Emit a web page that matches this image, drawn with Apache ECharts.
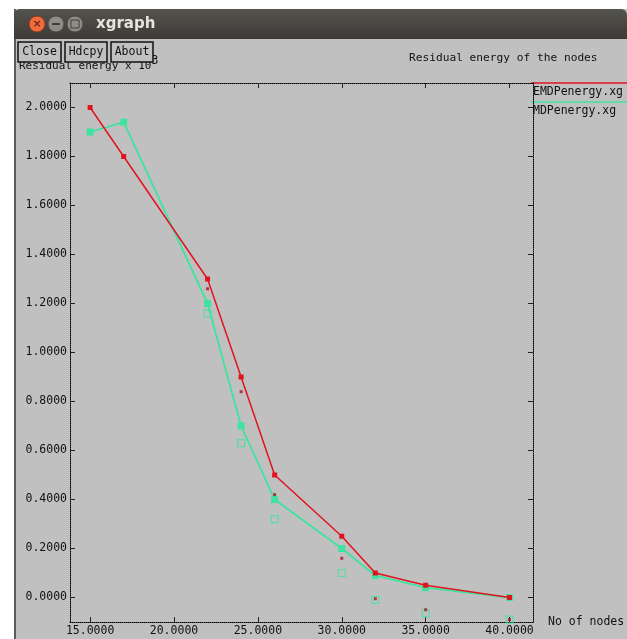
<!DOCTYPE html>
<html>
<head>
<meta charset="utf-8">
<title>xgraph - Residual energy of the nodes</title>
<script src="https://cdn.jsdelivr.net/npm/echarts@6/dist/echarts.min.js"></script>
<style>
  html, body { margin: 0; padding: 0; background: #fff; }
  #chart { width: 627px; height: 639px; }
</style>
</head>
<body>
<div id="chart"></div>
<script>
/*global echarts */

// ------------------------------ DATA ------------------------------
var nodeCounts = [15, 17, 22, 24, 26, 30, 32, 35, 40];
var emdEnergy  = [2.0, 1.8, 1.3, 0.9, 0.5, 0.25, 0.1, 0.05, 0.0];
var mdEnergy   = [1.9, 1.94, 1.2, 0.7, 0.4, 0.2, 0.09, 0.04, 0.0];

// the loose marks xgraph draws under the lines
var markNodes  = [22, 24, 26, 30, 32, 35, 40];
var emdMarks   = [1.26, 0.84, 0.42, 0.16, -0.005, -0.05, -0.09];
var mdMarks    = [1.16, 0.63, 0.32, 0.10, -0.01, -0.065, -0.09];

var xTicks = [15, 20, 25, 30, 35, 40];
var yTicks = [0, 0.2, 0.4, 0.6, 0.8, 1.0, 1.2, 1.4, 1.6, 1.8, 2.0];

var seriesNames = ['EMDPenergy.xg', 'MDPenergy.xg'];
// ------------------------------------------------------------------

var xgraphChart = (function () {
  var
    configMap = {
      red   : '#e2121f',
      green : '#3fe3a0',
      gray  : '#c0c0c0',
      mono  : '"DejaVu Sans Mono", "Liberation Mono", monospace'
    },
    zipPoints, makeAxisPair, makeChrome, renderChart
  ;

  zipPoints = function (xs, ys) {
    return xs.map(function (x, i) { return [x, ys[i]]; });
  };

  // dotted frame with inward ticks, xgraph style
  makeAxisPair = function (kind) {
    var isX = kind === 'x',
      ticks = isX ? xTicks : yTicks,
      base = {
        type : 'value',
        min  : isX ? 13.8 : -0.1,
        max  : isX ? 41.4 : 2.1,
        axisLine  : { show : true, onZero : false,
                      lineStyle : { color : '#000', width : 1, type : [1, 1] } },
        axisTick  : { show : true, inside : true, length : 5, customValues : ticks,
                      lineStyle : { color : '#222', width : 1 } },
        splitLine : { show : false }
      },
      main = echarts.util.merge({
        position  : isX ? 'bottom' : 'left',
        axisLabel : {
          customValues : ticks, margin : 3,
          color : '#111', fontFamily : configMap.mono, fontSize : 11.5,
          formatter : function (v) { return v.toFixed(4); }
        }
      }, base, true),
      other = echarts.util.merge({
        position  : isX ? 'top' : 'right',
        axisLabel : { show : false }
      }, base, true);

    if (isX) {
      main.name = 'No of nodes';
      main.nameLocation = 'end';
      main.nameGap = 15;
      main.nameTextStyle = { color : '#111', fontFamily : configMap.mono,
        fontSize : 11.5, align : 'left', verticalAlign : 'middle' };
    }
    return [main, other];
  };

  // window frame, title bar, buttons, legend
  makeChrome = function () {
    var mono = configMap.mono, items;
    items = [
      { type : 'rect', shape : { x : 0, y : 0, width : 627, height : 9 },
        style : { fill : '#fff' }, silent : true },
      { type : 'rect', shape : { x : 0, y : 0, width : 14, height : 639 },
        style : { fill : '#fff' }, silent : true },
      { type : 'line', shape : { x1 : 15, y1 : 9, x2 : 15, y2 : 639 },
        style : { stroke : '#5a5a5a', lineWidth : 2 }, silent : true },
      { type : 'rect', shape : { x : 14, y : 9, width : 613, height : 30, r : [6, 6, 0, 0] },
        style : { fill : new echarts.graphic.LinearGradient(0, 0, 0, 1, [
          { offset : 0, color : '#54534d' }, { offset : 1, color : '#3b3a36' }]) },
        silent : true },
      { type : 'circle', shape : { cx : 37, cy : 24, r : 8 },
        style : { fill : '#ef6a3c', stroke : '#8a3a1c', lineWidth : 1 } },
      { type : 'text', x : 37, y : 24, style : { text : '×', fill : '#6b2a10',
        font : 'bold 11px "DejaVu Sans"', align : 'center', verticalAlign : 'middle' } },
      { type : 'circle', shape : { cx : 56, cy : 24, r : 8 },
        style : { fill : '#8e8c86', stroke : '#4a4944', lineWidth : 1 } },
      { type : 'rect', shape : { x : 52, y : 23, width : 8, height : 2 },
        style : { fill : '#3f3e3a' } },
      { type : 'circle', shape : { cx : 75, cy : 24, r : 8 },
        style : { fill : '#8e8c86', stroke : '#4a4944', lineWidth : 1 } },
      { type : 'rect', shape : { x : 71, y : 20, width : 8, height : 8 },
        style : { fill : 'none', stroke : '#3f3e3a', lineWidth : 1 } },
      { type : 'text', x : 96, y : 24, style : { text : 'xgraph', fill : '#e6e3dc',
        font : 'bold 15px "DejaVu Sans"', verticalAlign : 'middle' } },
      // y-axis caption, half hidden behind the buttons like in xgraph
      { type : 'text', x : 19, y : 66, style : {
        text : 'Residual energy x 10{sup|3}', fill : '#111',
        font : '11px ' + mono, verticalAlign : 'middle',
        rich : { sup : { fontFamily : 'DejaVu Sans Mono', fontSize : 11.5,
                         verticalAlign : 'bottom', padding : [0, 0, 10, 0] } } } }
    ];

    [['Close', 18, 43], ['Hdcpy', 65, 42], ['About', 111, 42]].forEach(function (b) {
      items.push({ type : 'rect', shape : { x : b[1], y : 42, width : b[2], height : 20 },
        style : { fill : configMap.gray, stroke : '#111', lineWidth : 1.5 } });
      items.push({ type : 'text', x : b[1] + b[2] / 2, y : 52, style : {
        text : b[0], fill : '#111', font : '11.5px ' + mono,
        align : 'center', verticalAlign : 'middle' } });
    });

    items.push(
      { type : 'line', shape : { x1 : 531, y1 : 83, x2 : 627, y2 : 83 },
        style : { stroke : configMap.red, lineWidth : 1.5 } },
      { type : 'text', x : 533, y : 92, style : { text : seriesNames[0], fill : '#111',
        font : '11.5px ' + mono, verticalAlign : 'middle' } },
      { type : 'line', shape : { x1 : 531, y1 : 102, x2 : 627, y2 : 102 },
        style : { stroke : configMap.green, lineWidth : 1.5 } },
      { type : 'text', x : 533, y : 111, style : { text : seriesNames[1], fill : '#111',
        font : '11.5px ' + mono, verticalAlign : 'middle' } }
    );
    return items;
  };

  renderChart = function (el) {
    var chart = echarts.init(el, null, { renderer : 'canvas' }),
      xs = makeAxisPair('x'), ys = makeAxisPair('y');

    chart.setOption({
      animation : false,
      backgroundColor : configMap.gray,
      title : {
        text : 'Residual energy of the nodes', left : 404, top : 48,
        textStyle : { color : '#111', fontFamily : configMap.mono,
                      fontSize : 11.2, fontWeight : 'normal' }
      },
      grid : { left : 70, right : 94, top : 83, bottom : 17, outerBoundsMode : 'none' },
      xAxis : xs,
      yAxis : ys,
      graphic : { elements : makeChrome() },
      series : [
        { name : seriesNames[0], type : 'line', data : zipPoints(nodeCounts, emdEnergy),
          symbol : 'rect', symbolSize : 5, showAllSymbol : true,
          itemStyle : { color : configMap.red },
          lineStyle : { color : configMap.red, width : 1.5 }, z : 4 },
        { name : seriesNames[1], type : 'line', data : zipPoints(nodeCounts, mdEnergy),
          symbol : 'rect', symbolSize : 7, showAllSymbol : true,
          itemStyle : { color : configMap.green },
          lineStyle : { color : configMap.green, width : 1.8 }, z : 3 },
        { name : seriesNames[0] + ' marks', type : 'scatter',
          data : zipPoints(markNodes, emdMarks), symbol : 'rect', symbolSize : 3,
          itemStyle : { color : '#b01020' }, z : 5 },
        { name : seriesNames[1] + ' marks', type : 'scatter',
          data : zipPoints(markNodes, mdMarks), symbol : 'rect', symbolSize : 7,
          itemStyle : { color : 'rgba(0,0,0,0)', borderColor : configMap.green,
                        borderWidth : 1.2 }, z : 4 }
      ]
    });
    return chart;
  };

  return { renderChart : renderChart };
}());

xgraphChart.renderChart(document.getElementById('chart'));
</script>
</body>
</html>
